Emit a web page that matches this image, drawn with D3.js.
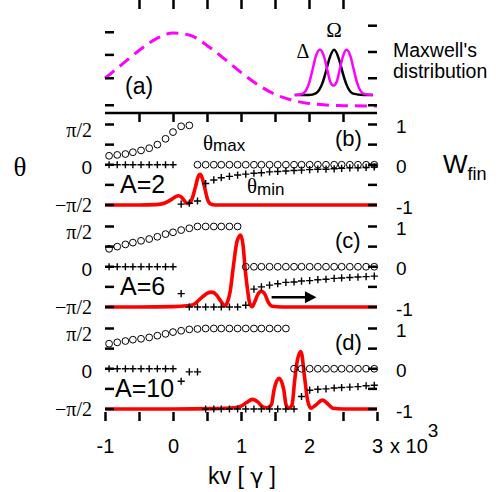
<!DOCTYPE html>
<html>
<head>
<meta charset="utf-8">
<script src="https://cdn.jsdelivr.net/npm/d3@7"></script>
<style>
body { margin: 0; background: #fff; }
text { font-family: "Liberation Sans", Arial, sans-serif; fill: #000; }
.serif { font-family: "Liberation Serif", "Times New Roman", serif; }
</style>
</head>
<body>
<svg width="499" height="492"></svg>
<script>
// kv grid (units of 10^3 gamma) shared by the theta markers
var kvGrid = [-0.94, -0.82, -0.70, -0.59, -0.47, -0.35, -0.23, -0.11, 0.00, 0.12, 0.24, 0.36, 0.48, 0.60, 0.71, 0.83, 0.95,
              1.07, 1.19, 1.30, 1.42, 1.54, 1.66, 1.78, 1.89, 2.01, 2.13, 2.25, 2.37, 2.48, 2.60, 2.72, 2.84, 2.96];

// theta in degrees (-90 = -pi/2, 90 = pi/2)
var thetaMaxB = [20, 22, 24, 28, 32, 37, 45, 58, 73, 86, 88, 0, 0, 0, 0, 0, 0,
                 0, 0, 0, 0, 0, 0, 0, 0, 0, 0, 0, 0, 0, 0, 0, 0, 0];
var thetaMinB = [0, 0, 0, 0, 0, 0, 0, 0, 0, -88, -86, -81, -42, -34, -29, -26, -23,
                 -21, -19, -18, -16, -15, -14, -13, -12, -11, -10, -10, -9, -8, -7, -7, -6, -5];
var thetaMaxC = [40, 45, 50, 54, 58, 62, 67, 73, 77, 82, 86, 90, 90, 90, 90, 90, 90,
                 0, 0, 0, 0, 0, 0, 0, 0, 0, 0, 0, 0, 0, 0, 0, 0, 0];
var thetaMinC = [0, 0, 0, 0, 0, 0, 0, 0, 0, -60, -90, -90, -90, -90, -90, -90, -90,
                 -86, -50, -45, -41, -38, -35, -34, -32, -31, -29, -28, -26, -25, -24, -23, -22, -21];
var thetaMaxD = [56, 59, 62, 65, 67, 70, 74, 78, 82, 85, 88, 89, 90, 90, 90, 90, 90,
                 90, 90, 90, 90, 90, 90, 0, 0, 0, 0, 0, 0, 0, 0, 0, 0, 0];
var thetaMinD = [0, 0, 0, 0, 0, 0, 0, 0, 0, -28, -7, -7, -90, -90, -90, -90, -90,
                 -90, -90, -90, -90, -90, -90, -90, -62, -48, -46, -45, -43, -42, -41, -40, -38, -37];

// final W (red curves)
var wKvB = [-1, -0.5, -0.25, -0.12, -0.02, 0.04, 0.08, 0.12, 0.17, 0.21, 0.25, 0.29, 0.33, 0.37, 0.40, 0.43, 0.47, 0.51, 0.55, 0.62, 1.0, 2.0, 3.0];
var wB   = [-1, -1, -0.99, -0.95, -0.86, -0.79, -0.77, -0.8, -0.9, -0.96, -0.94, -0.8, -0.55, -0.3, -0.24, -0.33, -0.6, -0.87, -0.97, -1, -1, -1, -1];
var wKvC = [-1, -0.5, 0, 0.2, 0.3, 0.4, 0.5, 0.57, 0.64, 0.7, 0.765, 0.8, 0.84, 0.89, 0.94, 0.995, 1.03, 1.06, 1.1, 1.13, 1.165, 1.2, 1.25, 1.3, 1.35, 1.4, 1.46, 1.6, 3.0];
var wC   = [-1, -1, -0.99, -0.97, -0.94, -0.8, -0.66, -0.63, -0.7, -0.85, -0.97, -0.88, -0.62, 0.04, 0.62, 0.79, 0.54, -0.04, -0.62, -0.92, -0.99, -0.88, -0.68, -0.61, -0.68, -0.88, -0.98, -1, -1];
var wKvD = [-1, 0, 0.6, 0.9, 1.0, 1.08, 1.17, 1.25, 1.32, 1.37, 1.41, 1.45, 1.485, 1.56, 1.63, 1.66, 1.7, 1.75, 1.79, 1.83, 1.88, 1.94, 1.98, 2.03, 2.1, 2.2, 2.28, 2.35, 2.5, 3.0];
var wD   = [-1, -1, -0.99, -0.97, -0.93, -0.84, -0.76, -0.83, -0.95, -0.97, -0.95, -0.88, -0.53, -0.24, -0.53, -0.88, -0.98, -0.9, -0.28, 0.22, 0.43, -0.28, -0.79, -0.98, -0.9, -0.78, -0.88, -0.98, -1, -1];

// panel (a): Maxwell's distribution and the two pulse spectra
var maxwellKv = [-1, -0.75, -0.5, -0.25, 0, 0.25, 0.5, 0.75, 1, 1.25, 1.5, 1.75, 2, 2.25, 2.5, 3];
var maxwellF  = [0.38, 0.57, 0.76, 0.92, 1.0, 0.97, 0.83, 0.65, 0.46, 0.29, 0.16, 0.08, 0.035, 0.013, 0.005, 0];
var omegaKv = [1.79, 1.9, 2.0, 2.1, 2.2, 2.25, 2.3, 2.37, 2.45, 2.5, 2.55, 2.65, 2.8, 2.94];
var omegaF  = [0.15, 0.15, 0.151, 0.174, 0.32, 0.476, 0.65, 0.77, 0.615, 0.44, 0.296, 0.169, 0.15, 0.15];
var deltaKv = [1.79, 1.9, 2.0, 2.05, 2.1, 2.16, 2.22, 2.27, 2.31, 2.36, 2.41, 2.45, 2.5, 2.55, 2.61, 2.66, 2.71, 2.8, 2.94];
var deltaF  = [0.15, 0.165, 0.31, 0.49, 0.68, 0.77, 0.68, 0.49, 0.34, 0.28, 0.34, 0.49, 0.68, 0.77, 0.68, 0.49, 0.31, 0.17, 0.15];

var xTickVals = [-1, -0.5, 0, 0.5, 1, 1.5, 2, 2.5, 3];
var thetaTicks = [-90, -45, 0, 45, 90];
var thetaLabels = [["\u2212\u03c0/2", -90], ["0", 0], ["\u03c0/2", 90]];
var wLabels = [["-1", -1], ["0", 0], ["1", 1]];
var panelNames = ["(b)", "(c)", "(d)"];
var ampNames = ["A=2", "A=6", "A=10"];

var svg = d3.select("svg"),
    left = 105, right = 377, top = 12, bottom = 421, split = 113;

var x = d3.scaleLinear().domain([-1, 3]).range([left, right]),
    ya = d3.scaleLinear().domain([0, 1]).range([106, 33]);

var panelBase = [205, 307, 409];

var zip = function (a, b) { return a.map(function (v, i) { return [v, b[i]]; }); };
var lineFor = function (yScale) {
    return d3.line()
        .curve(d3.curveMonotoneX)
        .x(function (d) { return x(d[0]); })
        .y(function (d) { return yScale(d[1]); });
};

// ---- panel (a)
svg.append("path")
    .attr("d", lineFor(ya)(zip(maxwellKv, maxwellF)))
    .style("fill", "none").style("stroke", "#ff00ff")
    .style("stroke-width", 3).style("stroke-dasharray", "12,7");

svg.append("path")
    .attr("d", lineFor(ya)(zip(omegaKv, omegaF)))
    .style("fill", "none").style("stroke", "#000").style("stroke-width", 2.5);

svg.append("path")
    .attr("d", lineFor(ya)(zip(deltaKv, deltaF)))
    .style("fill", "none").style("stroke", "#ff00ff").style("stroke-width", 2.5);

svg.append("text").attr("class", "serif").attr("x", 334).attr("y", 37)
    .attr("text-anchor", "middle").style("font-size", "21px").text("\u03a9");
svg.append("text").attr("class", "serif").attr("x", 303).attr("y", 58)
    .attr("text-anchor", "middle").style("font-size", "20px").text("\u0394");
svg.append("text").attr("x", 125).attr("y", 94).style("font-size", "23px").text("(a)");
svg.append("text").attr("x", 393).attr("y", 57).style("font-size", "19.5px").text("Maxwell's");
svg.append("text").attr("x", 393).attr("y", 78).style("font-size", "19.5px").text("distribution");

// panel (a) side ticks
[0.01, 0.38, 0.70, 1.01].forEach(function (v) {
    svg.append("line").attr("x1", left).attr("x2", left + 9).attr("y1", ya(v)).attr("y2", ya(v))
        .style("stroke", "#000").style("stroke-width", 2.5);
});
[0.01, 0.38, 0.74, 1.10].forEach(function (v) {
    svg.append("line").attr("x1", right - 9).attr("x2", right).attr("y1", ya(v)).attr("y2", ya(v))
        .style("stroke", "#000").style("stroke-width", 2.5);
});

// ---- panels (b), (c), (d)
var panels = [
    {tmax: thetaMaxB, tmin: thetaMinB, wKv: wKvB, w: wB},
    {tmax: thetaMaxC, tmin: thetaMinC, wKv: wKvC, w: wC},
    {tmax: thetaMaxD, tmin: thetaMinD, wKv: wKvD, w: wD}
];
// vertical nudge of the theta labels so the stacked pi/2 labels don't collide
var labelNudge = {"-90": 1, "0": 3, "90": 6};

panels.forEach(function (p, i) {
    var base = panelBase[i];
    var yt = d3.scaleLinear().domain([-90, 90]).range([base, base - 80.5]),
        yw = d3.scaleLinear().domain([-1, 1]).range([base, base - 80.5]);
    var g = svg.append("g").attr("class", "panel");

    g.append("path")
        .attr("d", lineFor(yw)(zip(p.wKv, p.w)))
        .style("fill", "none").style("stroke", "#ff0000").style("stroke-width", 3.6);

    g.selectAll(".tmax")
        .data(zip(kvGrid, p.tmax))
        .enter().append("circle")
        .attr("class", "tmax")
        .attr("cx", function (d) { return x(d[0]); })
        .attr("cy", function (d) { return yt(d[1]); })
        .attr("r", 3.4)
        .style("fill", "none").style("stroke", "#000").style("stroke-width", 1);

    g.selectAll(".tmin")
        .data(zip(kvGrid, p.tmin))
        .enter().append("path")
        .attr("class", "tmin")
        .attr("d", function (d) {
            var cx = x(d[0]), cy = yt(d[1]);
            return "M" + (cx - 3.6) + "," + cy + "h7.2M" + cx + "," + (cy - 3.6) + "v7.2";
        })
        .style("stroke", "#000").style("stroke-width", 1.4);

    thetaTicks.forEach(function (t) {
        g.append("line").attr("x1", left).attr("x2", left + 9).attr("y1", yt(t)).attr("y2", yt(t))
            .style("stroke", "#000").style("stroke-width", 2.5);
        g.append("line").attr("x1", right - 9).attr("x2", right).attr("y1", yt(t)).attr("y2", yt(t))
            .style("stroke", "#000").style("stroke-width", 2.5);
    });

    thetaLabels.forEach(function (l) {
        g.append("text")
            .attr("class", l[1] === 0 ? null : "serif")
            .attr("x", 92).attr("y", yt(l[1]) + labelNudge[l[1]]).attr("dy", "0.32em")
            .attr("text-anchor", "end")
            .style("font-size", l[1] === 0 ? "19px" : "20px")
            .text(l[0]);
    });
    wLabels.forEach(function (l) {
        g.append("text")
            .attr("x", 396).attr("y", yw(l[1]) + 2).attr("dy", "0.35em")
            .style("font-size", "19px")
            .text(l[0]);
    });

    g.append("text").attr("x", 335).attr("y", base - 59).style("font-size", "22px").text(panelNames[i]);
    g.append("text").attr("x", i === 2 ? 115 : 120).attr("y", base - 12.5).style("font-size", "25px").text(ampNames[i]);
});

// theta_max / theta_min labels in panel (b)
var tmaxLab = svg.append("text").attr("x", 203).attr("y", 150);
tmaxLab.append("tspan").attr("class", "serif").style("font-size", "21px").text("\u03b8");
tmaxLab.append("tspan").attr("dy", 1).style("font-size", "17px").text("max");
var tminLab = svg.append("text").attr("x", 247).attr("y", 193);
tminLab.append("tspan").attr("class", "serif").style("font-size", "21px").text("\u03b8");
tminLab.append("tspan").attr("dy", 2).style("font-size", "17px").text("min");

// arrow in panel (c)
var ywc = d3.scaleLinear().domain([-1, 1]).range([panelBase[1], panelBase[1] - 80.5]);
svg.append("line")
    .attr("x1", x(1.45)).attr("x2", x(2.0)).attr("y1", ywc(-0.76)).attr("y2", ywc(-0.76))
    .style("stroke", "#000").style("stroke-width", 2.5);
svg.append("path")
    .attr("d", "M" + x(1.94) + "," + (ywc(-0.76) - 6) + "L" + x(2.11) + "," + ywc(-0.76) +
               "L" + x(1.94) + "," + (ywc(-0.76) + 6) + "Z")
    .style("fill", "#000");

// ---- frame and x axes
var fmt = function (d) { return Number.isInteger(d) ? String(d) : ""; };

svg.append("g")
    .attr("transform", "translate(0," + bottom + ")")
    .call(d3.axisBottom(x).tickValues(xTickVals).tickSize(-9).tickPadding(18).tickFormat(fmt))
    .call(function (a) {
        a.select(".domain").remove();
        a.selectAll("line").style("stroke-width", 2.5);
        a.selectAll("text").style("font-size", "20px").style("font-family", "'Liberation Sans', Arial, sans-serif");
    });

[top, split].forEach(function (yy) {
    svg.append("g")
        .attr("transform", "translate(0," + yy + ")")
        .call(d3.axisTop(x).tickValues(xTickVals.slice(1, -1)).tickSize(-9).tickFormat(""))
        .call(function (a) {
            a.select(".domain").remove();
            a.selectAll("line").style("stroke-width", 2.5);
        });
});

svg.append("rect")
    .attr("x", left).attr("y", top).attr("width", right - left).attr("height", bottom - top)
    .style("fill", "none").style("stroke", "#000").style("stroke-width", 2.5);
svg.append("line")
    .attr("x1", left).attr("x2", right).attr("y1", split).attr("y2", split)
    .style("stroke", "#000").style("stroke-width", 2.5);

// axis titles
var mult = svg.append("text").attr("x", 390).attr("y", 453).style("font-size", "20px");
mult.append("tspan").text("x 10");
mult.append("tspan").attr("dy", -16).style("font-size", "19px").text("3");

var kvLab = svg.append("text").attr("x", 242).attr("y", 484).attr("text-anchor", "middle")
    .style("font-size", "23px");
kvLab.append("tspan").text("kv [ ");
kvLab.append("tspan").style("font-family", "'DejaVu Sans', sans-serif").style("font-size", "22px").text("\u03b3");
kvLab.append("tspan").text(" ]");

svg.append("text").attr("class", "serif").attr("x", 20).attr("y", 176).attr("text-anchor", "middle")
    .style("font-size", "27px").text("\u03b8");

var wLab = svg.append("text").attr("x", 443).attr("y", 173);
wLab.append("tspan").style("font-size", "26px").text("W");
wLab.append("tspan").attr("dy", 7).style("font-size", "18px").text("fin");
</script>
</body>
</html>
